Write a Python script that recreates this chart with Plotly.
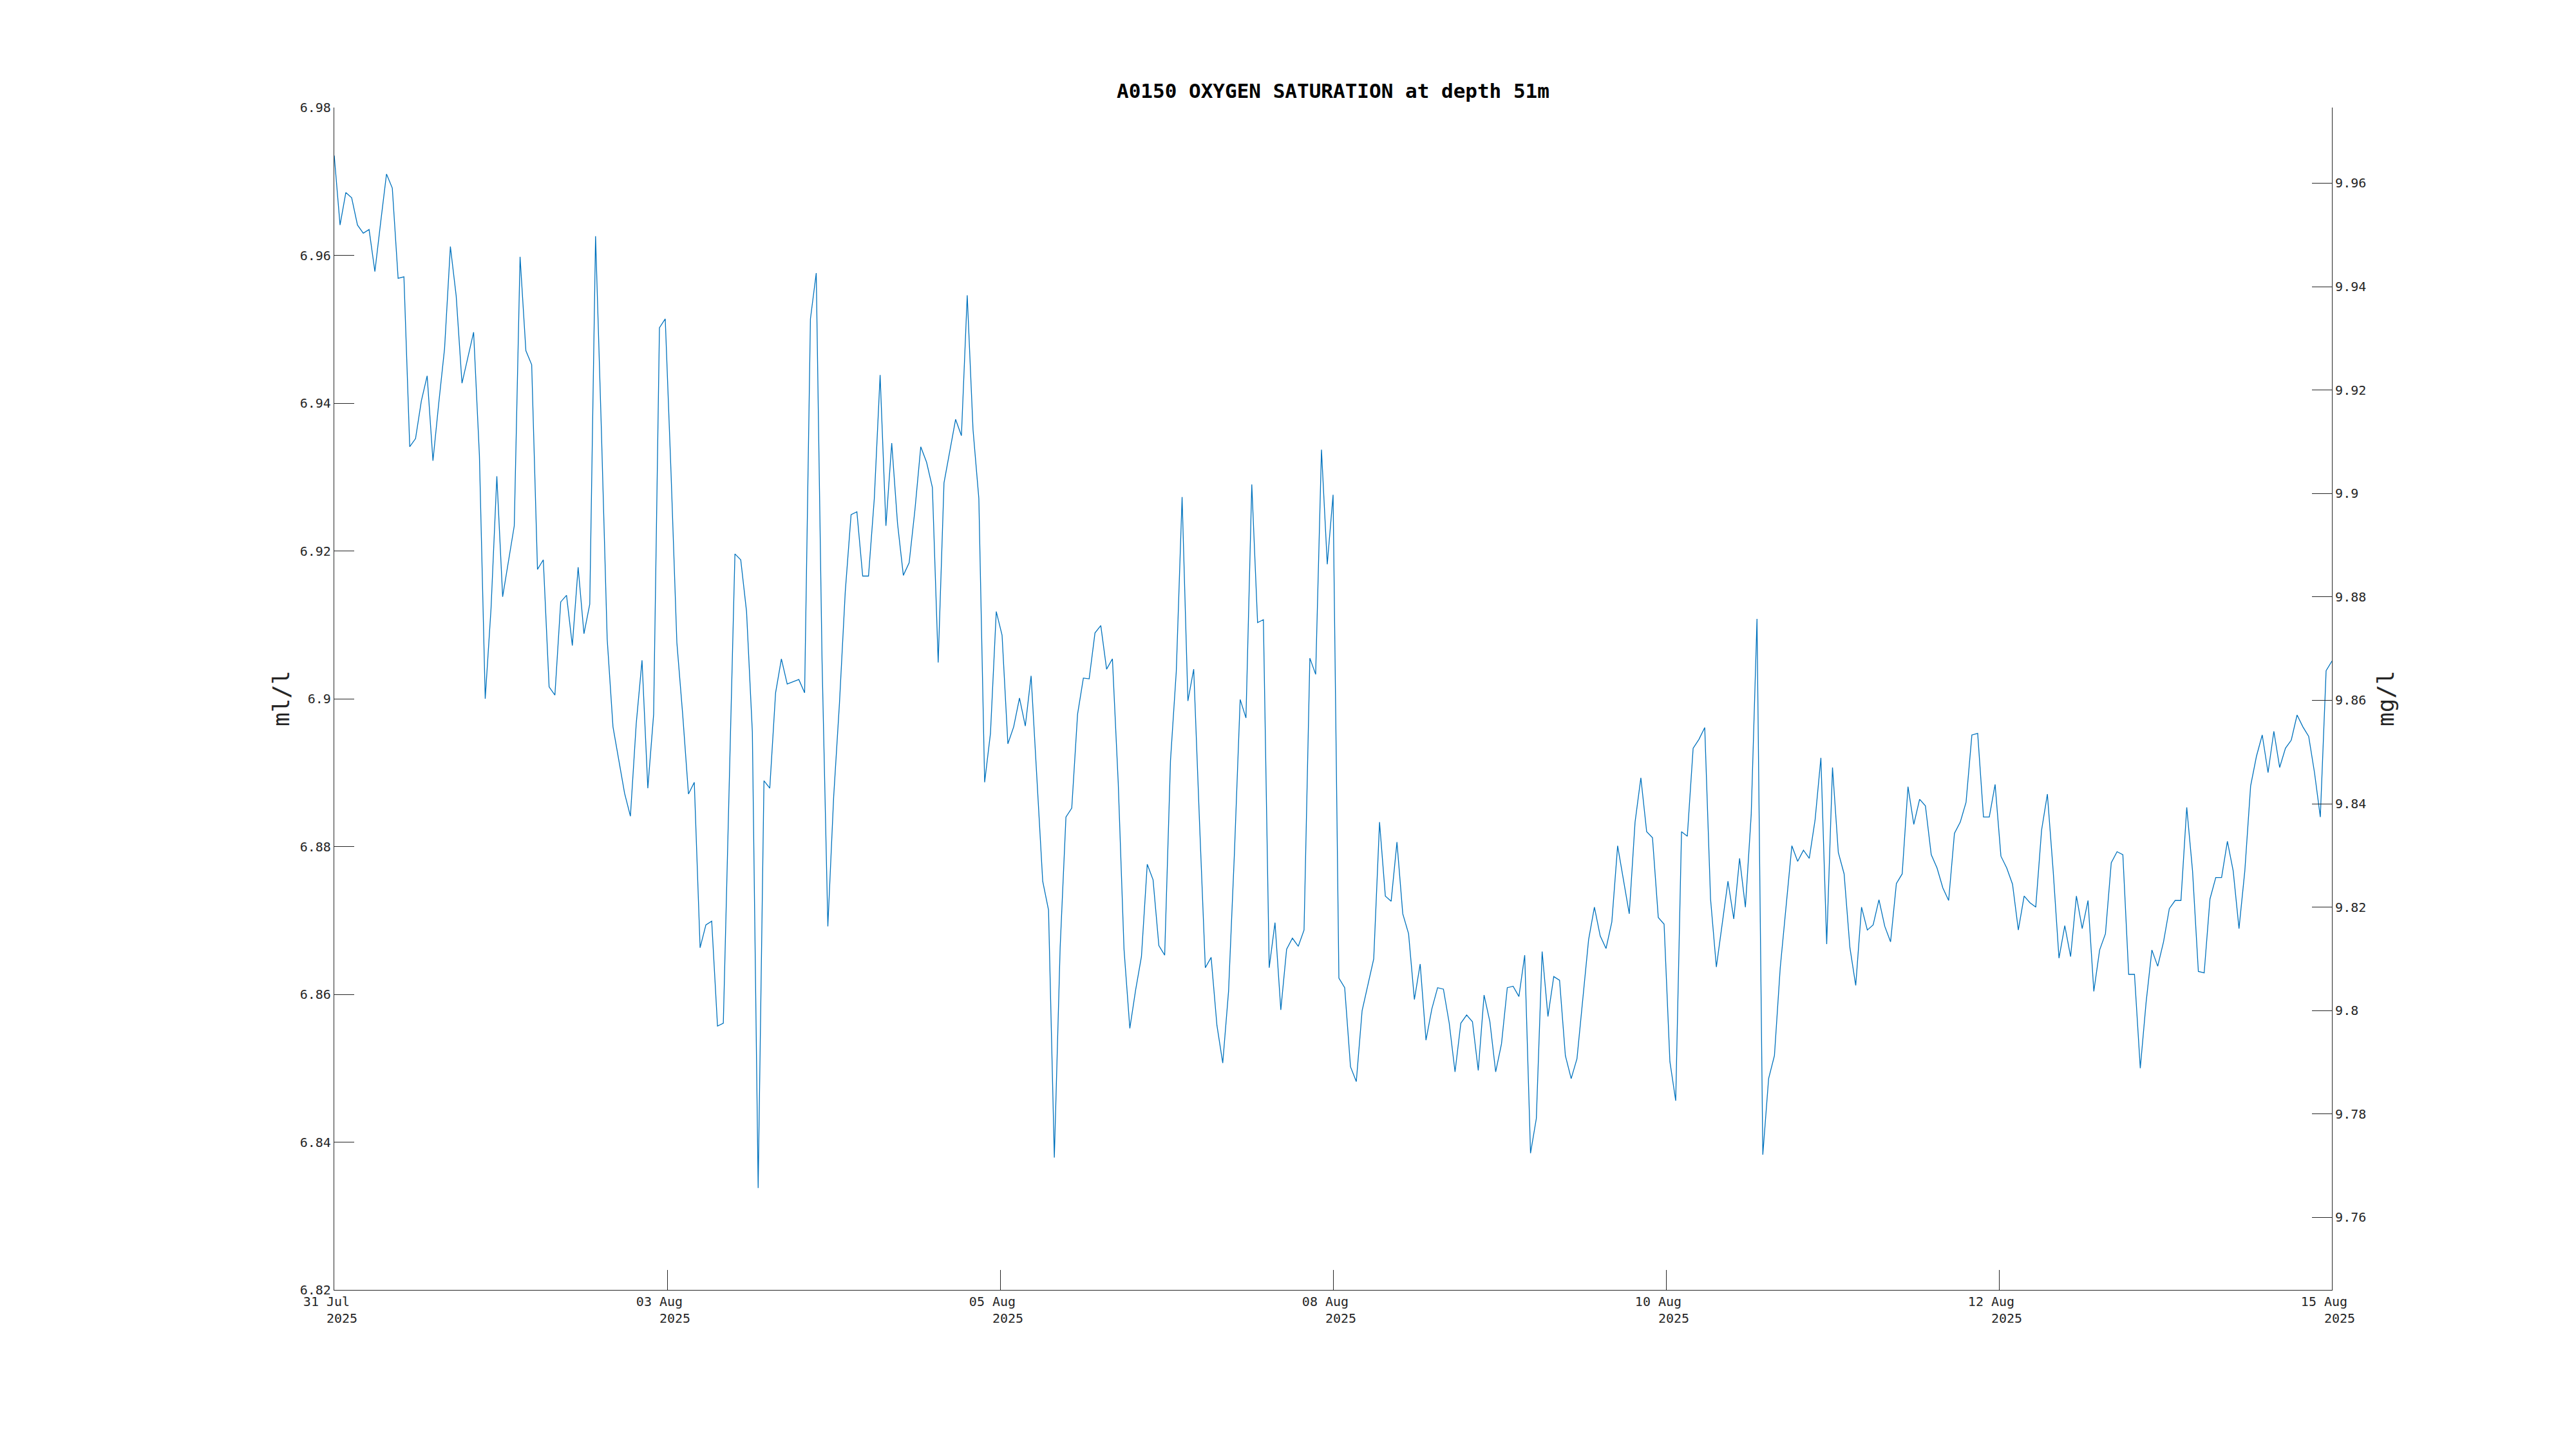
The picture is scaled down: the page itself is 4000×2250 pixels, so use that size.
import pandas as pd
import plotly.graph_objects as go

# ---------------- data ----------------
start_time = "2025-07-31 21:00"
oxygen_ml_l = [
    6.9735, 6.9641, 6.9685, 6.9678, 6.9641, 6.9630, 6.9635, 6.9578, 6.9645, 6.9710,
    6.9691, 6.9569, 6.9571, 6.9341, 6.9352, 6.9403, 6.9437, 6.9322, 6.9400, 6.9474,
    6.9612, 6.9545, 6.9427, 6.9461, 6.9496, 6.9329, 6.9000, 6.9122, 6.9301, 6.9138,
    6.9188, 6.9234, 6.9598, 6.9471, 6.9452, 6.9175, 6.9188, 6.9016, 6.9005, 6.9131,
    6.9140, 6.9072, 6.9178, 6.9088, 6.9128, 6.9626, 6.9364, 6.9081, 6.8962, 6.8918,
    6.8872, 6.8841, 6.8966, 6.9052, 6.8879, 6.8979, 6.9502, 6.9514, 6.9305, 6.9076,
    6.8979, 6.8871, 6.8887, 6.8663, 6.8694, 6.8699, 6.8557, 6.8561, 6.8877, 6.9196,
    6.9188, 6.9118, 6.8955, 6.8338, 6.8889, 6.8879, 6.9008, 6.9054, 6.9020, 6.9023,
    6.9026, 6.9008, 6.9514, 6.9576, 6.9052, 6.8692, 6.8867, 6.8994, 6.9145, 6.9249,
    6.9253, 6.9166, 6.9166, 6.9271, 6.9438, 6.9234, 6.9346, 6.9237, 6.9167, 6.9184,
    6.9256, 6.9341, 6.9320, 6.9286, 6.9049, 6.9292, 6.9334, 6.9378, 6.9356, 6.9546,
    6.9364, 6.9271, 6.8887, 6.8953, 6.9118, 6.9086, 6.8939, 6.8962, 6.9001, 6.8963,
    6.9031, 6.8891, 6.8753, 6.8714, 6.8379, 6.8663, 6.8840, 6.8852, 6.8979, 6.9028,
    6.9027, 6.9089, 6.9099, 6.9040, 6.9054, 6.8887, 6.8661, 6.8554, 6.8606, 6.8651,
    6.8776, 6.8755, 6.8666, 6.8653, 6.8916, 6.9037, 6.9273, 6.8997, 6.9040, 6.8833,
    6.8636, 6.8650, 6.8558, 6.8507, 6.8604, 6.8789, 6.8999, 6.8974, 6.9290, 6.9103,
    6.9107, 6.8636, 6.8697, 6.8579, 6.8661, 6.8676, 6.8665, 6.8687, 6.9055, 6.9033,
    6.9337, 6.9182, 6.9276, 6.8622, 6.8609, 6.8502, 6.8482, 6.8578, 6.8614, 6.8648,
    6.8833, 6.8733, 6.8726, 6.8806, 6.8709, 6.8682, 6.8593, 6.8641, 6.8538, 6.8580,
    6.8609, 6.8607, 6.8561, 6.8495, 6.8561, 6.8572, 6.8563, 6.8497, 6.8599, 6.8563,
    6.8495, 6.8533, 6.8609, 6.8611, 6.8597, 6.8653, 6.8385, 6.8432, 6.8658, 6.8570,
    6.8624, 6.8619, 6.8517, 6.8486, 6.8513, 6.8595, 6.8674, 6.8718, 6.8679, 6.8662,
    6.8698, 6.8801, 6.8755, 6.8709, 6.8833, 6.8893, 6.8820, 6.8812, 6.8704, 6.8695,
    6.8509, 6.8456, 6.8820, 6.8814, 6.8933, 6.8945, 6.8961, 6.8729, 6.8637, 6.8694,
    6.8753, 6.8702, 6.8784, 6.8718, 6.8843, 6.9108, 6.8383, 6.8486, 6.8517, 6.8636,
    6.8716, 6.8801, 6.8780, 6.8795, 6.8784, 6.8836, 6.8920, 6.8668, 6.8907, 6.8792,
    6.8763, 6.8663, 6.8612, 6.8718, 6.8687, 6.8694, 6.8728, 6.8692, 6.8671, 6.8750,
    6.8763, 6.8881, 6.8830, 6.8864, 6.8855, 6.8789, 6.8771, 6.8744, 6.8727, 6.8818,
    6.8833, 6.8860, 6.8951, 6.8953, 6.8840, 6.8840, 6.8884, 6.8787, 6.8771, 6.8749,
    6.8687, 6.8733, 6.8724, 6.8718, 6.8822, 6.8871, 6.8767, 6.8649, 6.8693, 6.8651,
    6.8733, 6.8689, 6.8727, 6.8604, 6.8660, 6.8682, 6.8778, 6.8793, 6.8789, 6.8627,
    6.8627, 6.8500, 6.8589, 6.8660, 6.8638, 6.8671, 6.8716, 6.8727, 6.8727, 6.8853,
    6.8767, 6.8631, 6.8629, 6.8729, 6.8758, 6.8758, 6.8807, 6.8767, 6.8689, 6.8767,
    6.8882, 6.8922, 6.8951, 6.8900, 6.8956, 6.8907, 6.8933, 6.8944, 6.8978, 6.8962,
    6.8949, 6.8900, 6.8840, 6.9038, 6.9051,
]
ML_TO_MG = 1.42903  # oxygen: 1 ml/l = 1.42903 mg/l

x_tick_labels = ["31 Jul", "03 Aug", "05 Aug", "08 Aug", "10 Aug", "12 Aug", "15 Aug"]
x_tick_year = "2025"
left_ticks = [6.82, 6.84, 6.86, 6.88, 6.90, 6.92, 6.94, 6.96, 6.98]
left_tick_text = ["6.82", "6.84", "6.86", "6.88", "6.9", "6.92", "6.94", "6.96", "6.98"]
right_ticks = [9.76, 9.78, 9.80, 9.82, 9.84, 9.86, 9.88, 9.90, 9.92, 9.94, 9.96]
right_tick_text = ["9.76", "9.78", "9.8", "9.82", "9.84", "9.86", "9.88", "9.9", "9.92", "9.94", "9.96"]
y_range = [6.82, 6.98]

title_text = "A0150 OXYGEN SATURATION at depth 51m"

# ---------------- figure ----------------
times = pd.date_range(start_time, periods=len(oxygen_ml_l), freq="h")
t0, t1 = times[0], times[-1]
n_ticks = len(x_tick_labels)
tick_vals = [t0 + (t1 - t0) * i / (n_ticks - 1) for i in range(n_ticks)]
NB = "\u00a0"
tick_text = [f"{lab}{NB}{NB}<br>{NB}{NB}{x_tick_year}" for lab in x_tick_labels]

AX = "#262626"
FONT = "DejaVu Sans Mono"

fig = go.Figure()
fig.add_trace(go.Scatter(
    x=times, y=oxygen_ml_l, mode="lines",
    line=dict(color="#0072BD", width=1.3),
    hoverinfo="skip", showlegend=False,
))
fig.add_trace(go.Scatter(
    x=times, y=[v * ML_TO_MG for v in oxygen_ml_l], mode="lines",
    line=dict(color="rgba(0,0,0,0)", width=0),
    yaxis="y2", hoverinfo="skip", showlegend=False,
))

W, H = 4000, 2250
OFF = 8  # page body margin
L, R, T, B = 519 - OFF, 379 + OFF, 167 - OFF, 247 + OFF
PW = W - L - R

axis_common = dict(
    showgrid=False, zeroline=False, showline=True, linecolor=AX, linewidth=1.2,
    ticks="inside", ticklen=31, tickwidth=1, tickcolor=AX,
    tickfont=dict(family=FONT, size=20, color=AX),
)

fig.update_layout(
    width=W, height=H,
    margin=dict(l=L, r=R, t=T, b=B, pad=0),
    paper_bgcolor="white", plot_bgcolor="white",
    showlegend=False, hovermode=False,
    title=dict(
        text=f"<b>{title_text}</b>",
        font=dict(family=FONT, size=31, color="black"),
        x=(L + PW / 2) / W, xanchor="center",
        y=1 - (141 - OFF) / H, yanchor="middle", yref="container",
    ),
    xaxis=dict(
        axis_common, type="date", range=[t0, t1],
        tickmode="array", tickvals=tick_vals, ticktext=tick_text,
    ),
    yaxis=dict(
        axis_common, range=y_range,
        tickmode="array", tickvals=left_ticks, ticktext=left_tick_text,
    ),
    yaxis2=dict(
        axis_common, overlaying="y", side="right", anchor="x",
        range=[y_range[0] * ML_TO_MG, y_range[1] * ML_TO_MG],
        tickmode="array", tickvals=right_ticks, ticktext=right_tick_text,
    ),
    annotations=[
        dict(text="ml/l", textangle=-90, xref="paper", yref="paper",
             x=(436 - OFF - L) / PW, y=0.5, xanchor="center", yanchor="middle",
             showarrow=False, font=dict(family=FONT, size=36, color=AX)),
        dict(text="mg/l", textangle=-90, xref="paper", yref="paper",
             x=(3704 - OFF - L) / PW, y=0.5, xanchor="center", yanchor="middle",
             showarrow=False, font=dict(family=FONT, size=36, color=AX)),
    ],
)

fig.write_html("out.html")
